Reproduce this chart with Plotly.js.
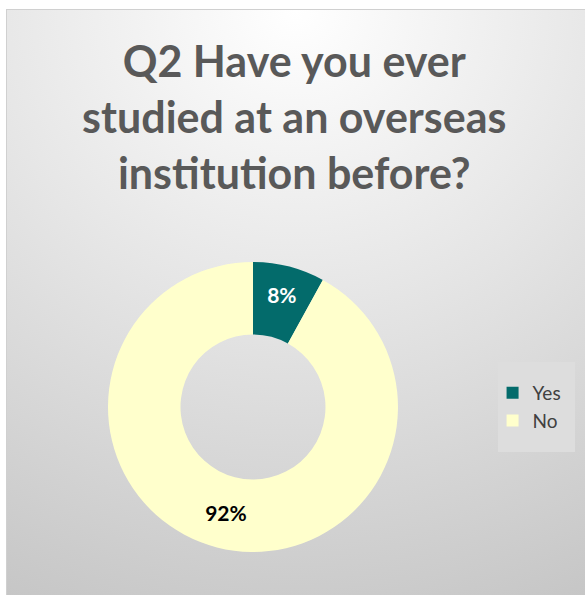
<!DOCTYPE html>
<html>
<head>
<meta charset="utf-8">
<script src="https://cdn.plot.ly/plotly-3.0.1.min.js"></script>
<style>
html,body{margin:0;padding:0;background:#ffffff;}
#bg{position:absolute;left:6px;top:9px;width:579px;height:586px;
 background:radial-gradient(ellipse 120% 110% at 50% 0%, #ffffff 0%, #e6e6e6 45%, #c6c6c6 100%);
 border-top:1px solid #d0d0d0;border-left:1px solid #d0d0d0;box-sizing:border-box;}
#chart{position:absolute;left:0;top:0;width:585px;height:601px;}
</style>
</head>
<body>
<div id="bg"></div>
<div id="chart"></div>
<script>
var categories = ["Yes", "No"];
var values = [8, 92];
var colors = ["#036b6b", "#ffffcc"];
var labelColors = ["#ffffff", "#000000"];

var trace = {
  type: "pie",
  labels: categories,
  values: values,
  hole: 0.5,
  sort: false,
  direction: "clockwise",
  rotation: 0,
  marker: {colors: colors, line: {width: 0}},
  textinfo: "percent",
  texttemplate: "%{percent:.0%}",
  textposition: "inside",
  insidetextorientation: "horizontal",
  textfont: {family: "Lato, 'Open Sans', sans-serif", size: 21, color: labelColors, weight: "bold"},
  domain: {x: [0.1846, 0.6803], y: [0.0815, 0.5641]},
  hoverinfo: "none"
};

var layout = {
  width: 585, height: 601,
  margin: {l: 0, r: 0, t: 0, b: 0},
  paper_bgcolor: "rgba(0,0,0,0)",
  plot_bgcolor: "rgba(0,0,0,0)",
  showlegend: true,
  title: {
    text: "<b>Q2 Have you ever<br>studied at an overseas<br>institution before?</b>",
    font: {family: "Lato, 'Open Sans', sans-serif", size: 43, color: "#595959"},
    x: 0.503, xanchor: "center", y: 0.872, yanchor: "top"
  },
  shapes: [{
    type: "rect", xref: "paper", yref: "paper",
    x0: 498/585, x1: 575/585, y0: 1 - 452/601, y1: 1 - 362/601,
    fillcolor: "#dddddd", line: {width: 0}, layer: "below"
  }],
  legend: {
    x: 0.842, xanchor: "left", y: 1 - 407/601, yanchor: "middle",
    bgcolor: "rgba(0,0,0,0)",
    font: {family: "Lato, 'Open Sans', sans-serif", size: 19, color: "#404040"},
    itemsizing: "constant",
    traceorder: "normal"
  }
};

Plotly.newPlot("chart", [trace], layout, {displayModeBar: false, staticPlot: true});
</script>
</body>
</html>
